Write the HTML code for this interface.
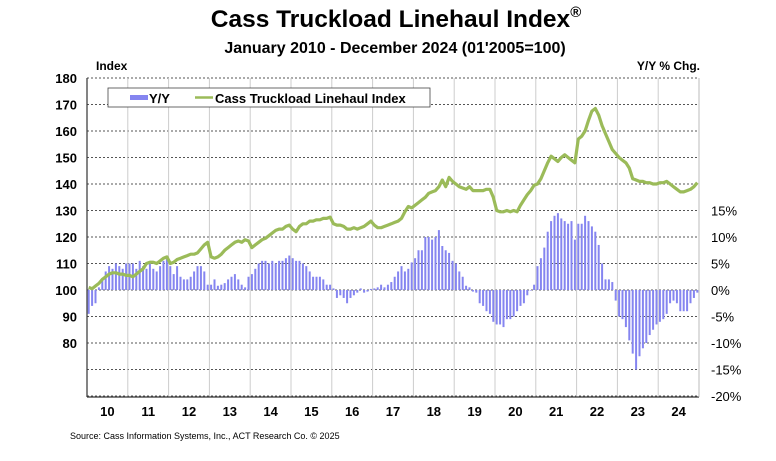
<!DOCTYPE html>
<html><head><meta charset="utf-8"><style>
body{margin:0;background:#fff;width:776px;height:461px;overflow:hidden}
svg{display:block;font-family:"Liberation Sans",Arial,sans-serif}
</style></head><body>
<svg id="chart" width="776" height="461" viewBox="0 0 776 461">
<text x="396" y="27" text-anchor="middle" font-size="24.5" font-weight="bold">Cass Truckload Linehaul Index<tspan font-size="15" dy="-10">®</tspan></text>
<text x="395" y="53" text-anchor="middle" font-size="16" font-weight="bold">January 2010 - December 2024 (01'2005=100)</text>
<text x="96" y="70" font-size="12" font-weight="bold">Index</text>
<text x="700" y="70" text-anchor="end" font-size="12" font-weight="bold">Y/Y % Chg.</text>
<g id="grid"></g>
<g id="bars"></g>
<path id="line" fill="none" stroke="#9bbb59" stroke-width="3.2" stroke-linejoin="round"/>
<g id="axes"></g>
<g>
<rect x="108" y="88" width="322" height="19" fill="#fff" stroke="#444" stroke-width="0.8"/>
<rect x="130" y="95" width="18" height="5" fill="#8585f0"/>
<text x="149" y="103" font-size="13" font-weight="bold">Y/Y</text>
<line x1="195" y1="97.5" x2="213" y2="97.5" stroke="#9bbb59" stroke-width="2.5"/>
<text x="215" y="103" font-size="13" font-weight="bold">Cass Truckload Linehaul Index</text>
</g>
<text x="70" y="439" font-size="9">Source: Cass Information Systems, Inc., ACT Research Co. © 2025</text>
</svg>
<script>
const years=["10","11","12","13","14","15","16","17","18","19","20","21","22","23","24"];
const leftTicks=[80,90,100,110,120,130,140,150,160,170,180];
const rightTicks=[-20,-15,-10,-5,0,5,10,15];
const indexValues=[
101,100.5,101.5,102.5,104,105,106,106.5,106.5,106,106,105.5,
105.5,105,106,107,108,110,110.5,110.5,110,111,112,112.5,
110,110.5,111.5,112,112.5,113,113.5,113.5,114,115.5,117,118,
112.5,112,112.5,113.5,115,116,117,118,118.5,118,119,118.5,
116,117,118,119,119.5,120.5,121.5,122.5,123,123,124,124.5,
123,122,124,125,125,126,126,126.5,126.5,127,127,127.5,
125,124.5,124.5,124,123,123,123.5,123,123.5,124,125,126,
124.5,123.5,123.5,124,124.5,125,125.5,126,127,129.5,131.5,131,
132,133,134,135,136.5,137,137.5,139,141.5,139,142.5,141,
140,139,138.5,138,139,137.5,137.5,137.5,137.5,138,138,135,
130,129.5,129.5,130,129.5,130,129.5,132,134,136,137.5,139.5,
140,142,145,148,150.5,149.5,148.5,150,151,150,149,148,
157,158,160,164,167.5,168.5,166,162,159,156,153,151.5,
150,149,148,146,142,141.5,141,141,140.5,140.5,140,140,
140.5,140.5,141,140,139,138,137,137,137.5,138,139,140.5];
const yoyValues=[
-4.5,-3,-2.5,0.5,2,3.5,4.5,4,5,4.5,4,5,
5,5,4,5.5,4.5,4,5,4,3.5,4.5,5.5,6.5,
4.5,3,4.5,2.5,2,2,2.5,3.5,4.5,4.5,3.5,1,
1,2,0.8,1,1.3,2,2.5,3,2,1,0.5,2.5,
3,4,5,5.5,5.5,5,5.5,5,5.5,5.5,6,6.5,
6,5.5,5.5,5,4.5,3.5,2.5,2.5,2.5,2,1,1,
0.3,-1.5,-1,-1.5,-2.5,-1.5,-1,-0.5,0.3,-0.5,-0.3,0.2,
0.3,0.5,1,0.5,1,1.5,2.5,3.5,4.5,3.5,4,5.2,
6,7.5,7.5,10,10,9.5,10,11.3,8.3,7.5,7,5.5,
5,3.5,2.5,0.8,0.5,-0.3,-0.5,-2.5,-3,-4,-4.5,-6,
-6.5,-6.5,-7,-5.5,-5.5,-5,-4,-3,-2.5,-1,0,1,
4.5,6,8,11,13,14,14.5,13.5,13,12.5,13,9.5,
12.5,12.5,14,13,12,11,8.5,5,2,2,1.5,-2,
-5,-5.5,-7,-9.5,-12,-15,-12.5,-11,-10,-8.5,-7.5,-6.5,
-6,-5.5,-4.5,-2.5,-2,-2.5,-4,-4,-4,-2.5,-1.5,-0.5];
const X0=87,X1=699,YB=397,YT=78;
const n=yoyValues.length;
const mw=(X1-X0)/n;
function xm(i){return X0+(i+0.5)*mw;}
function yL(v){return 290-(v-100)*2.65;}
function yR(p){return 290-p*5.3;}
const NS="http://www.w3.org/2000/svg";
function mk(t,a,p){const e=document.createElementNS(NS,t);for(const k in a)e.setAttribute(k,a[k]);p.appendChild(e);return e;}
const grid=document.getElementById('grid'),bars=document.getElementById('bars'),axes=document.getElementById('axes');
for(let v=60;v<=180;v+=10){
 const g=mk('line',{x1:X0,x2:X1,y1:yL(v),y2:yL(v),stroke:'#555','stroke-width':0.9,'stroke-dasharray':'2,2'},grid);
 
 
}
for(let k=1;k<years.length;k++){
 const x=X0+k*(X1-X0)/years.length;
 const g=mk('line',{x1:x,x2:x,y1:YT,y2:YB,stroke:'#ccc','stroke-width':1},grid);
 
 
}
yoyValues.forEach((p,i)=>{
 const y0=yR(0),y1=yR(p);
 const r=mk('rect',{x:xm(i)-1,y:Math.min(y0,y1),width:2,height:Math.max(0.5,Math.abs(y1-y0)),fill:'#8585f0'},bars);
 
 
});
document.getElementById('line').setAttribute('d',indexValues.map((v,i)=>(i?'L':'M')+xm(i).toFixed(1)+','+yL(v).toFixed(1)).join(''));
mk('line',{x1:X0,x2:X0,y1:YT,y2:YB,stroke:'#333','stroke-width':1.2},axes);
mk('line',{x1:X0,x2:X1,y1:YB,y2:YB,stroke:'#333','stroke-width':1.2},axes);
mk('line',{x1:X1,x2:X1,y1:YT,y2:YB,stroke:'#bbb','stroke-width':1},axes);
leftTicks.forEach(v=>{
 const t=mk('text',{x:77,y:yL(v)+5,'text-anchor':'end','font-size':13,'font-weight':'bold'},axes);
 t.textContent=v;
 
 
});
rightTicks.forEach(p=>{
 const t=mk('text',{x:711,y:yR(p)+5,'font-size':13},axes);
 t.textContent=p+'%';
 
 
});
years.forEach((y,k)=>{
 const t=mk('text',{x:X0+(k+0.5)*(X1-X0)/years.length,y:416,'text-anchor':'middle','font-size':13,'font-weight':'bold'},axes);
 t.textContent=y;
 
 
});
</script>
</body></html>
